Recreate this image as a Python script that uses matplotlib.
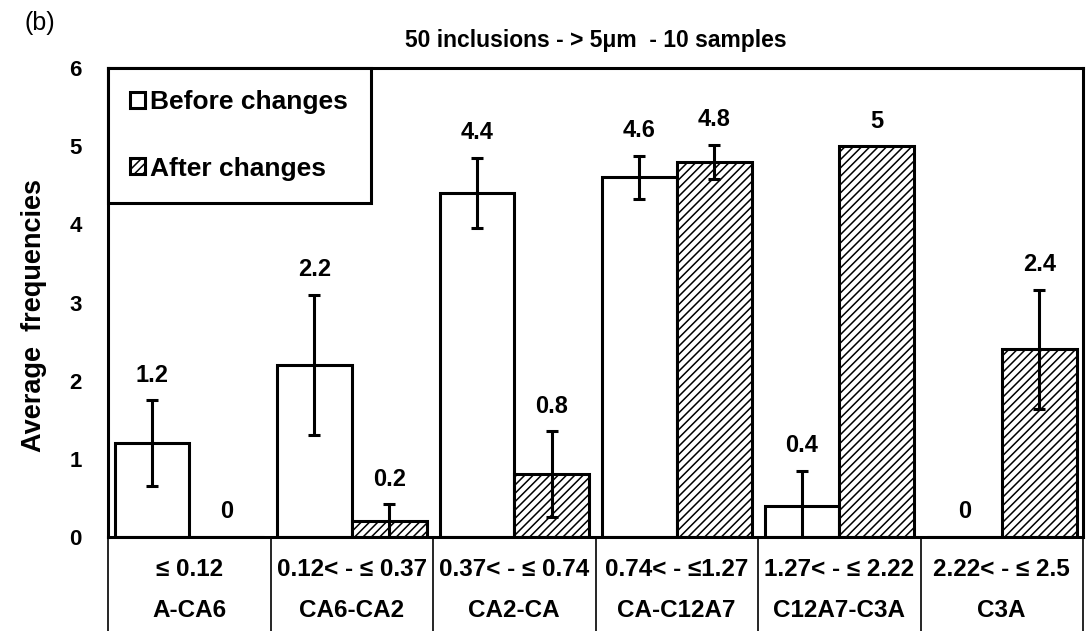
import matplotlib
matplotlib.use("Agg")
import matplotlib.pyplot as plt
import numpy as np

# Phase groups and the basicity range row shown under them
groups = ["A-CA6", "CA6-CA2", "CA2-CA", "CA-C12A7", "C12A7-C3A", "C3A"]
ranges = ["≤ 0.12", "0.12< - ≤ 0.37", "0.37< - ≤ 0.74",
          "0.74< - ≤1.27", "1.27< - ≤ 2.22", "2.22< - ≤ 2.5"]

# Average frequencies and their error bars
before = [1.2, 2.2, 4.4, 4.6, 0.4, 0]
after = [0, 0.2, 0.8, 4.8, 5, 2.4]
before_err = [0.55, 0.9, 0.45, 0.28, 0.45, 0]
after_err = [0, 0.22, 0.55, 0.22, 0, 0.76]

plt.rcParams['font.family'] = ['Liberation Sans', 'DejaVu Sans']
plt.rcParams['hatch.linewidth'] = 1.1

fig = plt.figure(figsize=(10.89, 6.31), dpi=100)
ax = fig.add_axes([108 / 1089, 1 - 537 / 631, 975 / 1089, 469 / 631])

x = np.arange(len(groups))
width = 0.46
lw = 2.2

ax.bar(x - width / 2, before, width, color='white', edgecolor='black',
       linewidth=lw, label='Before changes', zorder=2)
ax.bar(x + width / 2, after, width, color='white', edgecolor='black',
       linewidth=lw, hatch='////', label='After changes', zorder=2)

# error bars, only where there is one
for xs, vals, errs in [(x - width / 2, before, before_err),
                       (x + width / 2, after, after_err)]:
    for xi, v, e in zip(xs, vals, errs):
        if e > 0:
            ax.errorbar(xi, v, yerr=e, fmt='none', ecolor='black',
                        elinewidth=2.2, capsize=4, capthick=2.2, zorder=3)
        ax.annotate("{:g}".format(v), (xi, v + e), xytext=(0, 18),
                    textcoords='offset points', ha='center', va='center',
                    fontsize=17, fontweight='bold')

ax.set_xlim(-0.5, len(groups) - 0.5)
ax.set_ylim(0, 6)
ax.set_yticks(range(0, 7))
ax.set_xticks([])
ax.tick_params(axis='y', length=0, pad=19, labelsize=16)
for lab in ax.get_yticklabels():
    lab.set_fontweight('bold')
for sp in ax.spines.values():
    sp.set_linewidth(2.2)
    sp.set_color('black')

# table under the axis
for i in range(len(groups) + 1):
    ax.plot([i - 0.5, i - 0.5], [0, -0.2], color='black', linewidth=1.2,
            transform=ax.get_xaxis_transform(), clip_on=False)
for i in range(len(groups)):
    ax.text(i, -0.070, ranges[i], transform=ax.get_xaxis_transform(),
            ha='center', va='center', fontsize=17.5, fontweight='bold')
    ax.text(i, -0.156, groups[i], transform=ax.get_xaxis_transform(),
            ha='center', va='center', fontsize=17.5, fontweight='bold')

leg = ax.legend(loc='upper left', bbox_to_anchor=(0, 1), borderaxespad=0,
                fancybox=False, edgecolor='black', framealpha=1,
                prop={'size': 19, 'weight': 'bold'}, handlelength=0.55,
                handleheight=0.55, handletextpad=0.2, labelspacing=1.6,
                borderpad=0.85)
leg.get_frame().set_linewidth(2.2)

ax.text(0.5, 1 + 27 / 469, "50 inclusions - > 5μm  - 10 samples",
        transform=ax.transAxes, ha='center', va='center', fontsize=16.5,
        fontweight='bold')
fig.text(40 / 1089, 1 - 23 / 631, "(b)", ha='center', va='center', fontsize=18)
fig.text(34 / 1089, 1 - 316 / 631, "Average  frequencies", rotation=90,
         ha='center', va='center', fontsize=19.5, fontweight='bold')

fig.savefig("out.png", dpi=100)
